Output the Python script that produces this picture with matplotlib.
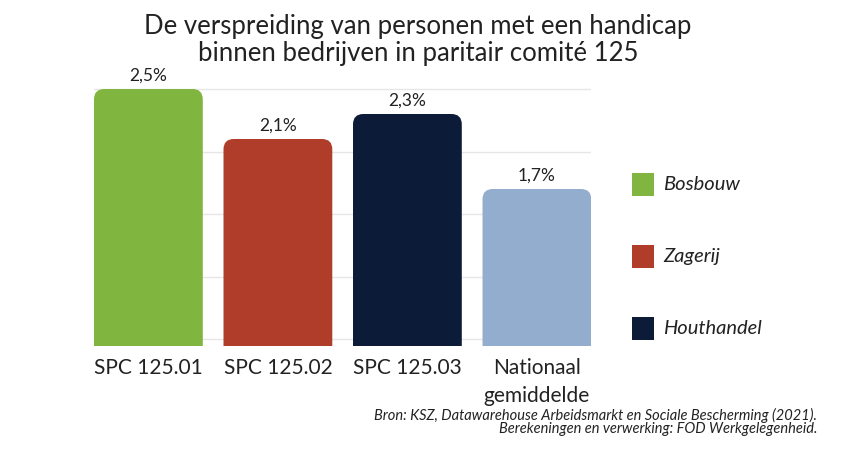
import matplotlib
matplotlib.use("Agg")
import matplotlib.pyplot as plt
from matplotlib.patches import FancyBboxPatch, Rectangle

# data
categories = ["SPC 125.01", "SPC 125.02", "SPC 125.03", "Nationaal\ngemiddelde"]
values = [2.5, 2.1, 2.3, 1.7]
value_labels = ["2,5%", "2,1%", "2,3%", "1,7%"]
colors = ["#80B53F", "#B03C2A", "#0B1B38", "#92ADCE"]
legend_names = ["Bosbouw", "Zagerij", "Houthandel"]
grid_vals = [0.5, 1.0, 1.5, 2.0, 2.5]

title = "De verspreiding van personen met een handicap\nbinnen bedrijven in paritair comité 125"
source_lines = ["Bron: KSZ, Datawarehouse Arbeidsmarkt en Sociale Bescherming (2021).",
                "Berekeningen en verwerking: FOD Werkgelegenheid."]

FONT = ["Lato", "DejaVu Sans"]
TXT = "#222222"

fig = plt.figure(figsize=(8.56, 4.51), dpi=100)
fig.patch.set_facecolor("white")
ax = fig.add_axes([94 / 856, 105 / 451, 497.3 / 856, 282 / 451])

ax.set_xlim(-0.42, 3.42)
ax.set_ylim(0.444, 2.7)

for g in grid_vals:
    ax.axhline(g, color="#e6e6e6", lw=1, zorder=0)

width = 0.84
bars = ax.bar(range(len(values)), values, width=width, color=colors, alpha=0)
for b, c in zip(bars, colors):
    p = FancyBboxPatch((b.get_x(), 0), b.get_width(), b.get_height(),
                       boxstyle="round,pad=0,rounding_size=0.08",
                       mutation_aspect=1.03, fc=c, ec="none", zorder=2)
    ax.add_patch(p)

for i, (v, lab) in enumerate(zip(values, value_labels)):
    ax.text(i, v + 0.045, lab, ha="center", va="bottom", fontsize=12.5,
            color=TXT, family=FONT)

ax.set_xticks(range(len(categories)))
ax.set_xticklabels(categories, fontsize=15, color=TXT, family=FONT,
                   linespacing=1.45, va="top")
ax.tick_params(axis="x", length=0, pad=9)
ax.set_yticks([])
for side in ["left", "top", "bottom", "right"]:
    ax.spines[side].set_visible(False)

fig.text(418 / 856, 1 - 40 / 451, title, ha="center", va="center",
         fontsize=18.5, color=TXT, family=FONT, linespacing=1.12)

# legend
for j, (name, c) in enumerate(zip(legend_names, colors[:3])):
    ytop = 173 + j * 72
    fig.patches.append(Rectangle((632 / 856, 1 - (ytop + 23) / 451), 22 / 856, 23 / 451,
                                 transform=fig.transFigure, fc=c, ec="none"))
    fig.text(663 / 856, 1 - (ytop + 11.5) / 451, name, ha="left", va="center",
             fontsize=14.5, style="italic", color=TXT, family=FONT)

for k, line in enumerate(source_lines):
    fig.text(817 / 856, 1 - (415 + k * 14) / 451, line, ha="right", va="center",
             fontsize=10.5, style="italic", color=TXT, family=FONT)

fig.savefig("out.png", dpi=100, facecolor="white")
